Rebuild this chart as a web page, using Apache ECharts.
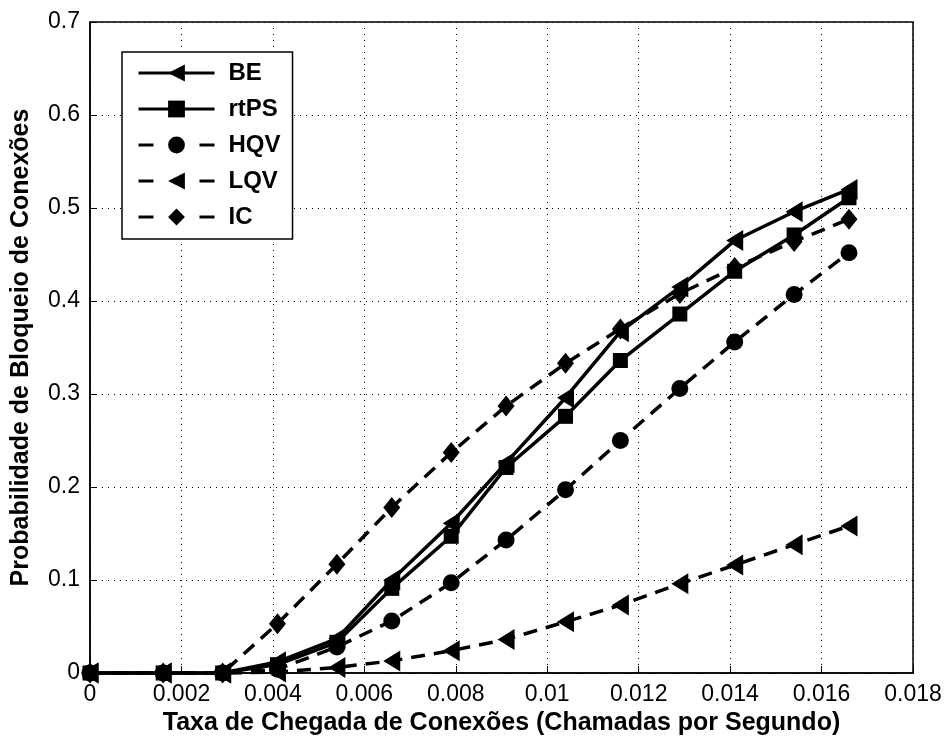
<!DOCTYPE html>
<html>
<head>
<meta charset="utf-8">
<script src="https://cdn.jsdelivr.net/npm/echarts@6/dist/echarts.min.js"></script>
<style>
html,body{margin:0;padding:0;background:#fff;}
#c{width:947px;height:737px;}
</style>
</head>
<body>
<div id="c"></div>
<script>
const xValues = [0, 0.0016, 0.0029, 0.0041, 0.0054, 0.0066, 0.0079, 0.0091, 0.0104, 0.0116, 0.0129, 0.0141, 0.0154, 0.0166];
const beValues   = [0, 0, 0, 0.012, 0.037, 0.100, 0.161, 0.226, 0.296, 0.367, 0.415, 0.465, 0.496, 0.520];
const rtpsValues = [0, 0, 0, 0.009, 0.033, 0.091, 0.147, 0.221, 0.276, 0.336, 0.386, 0.432, 0.471, 0.511];
const hqvValues  = [0, 0, 0, 0.004, 0.028, 0.056, 0.097, 0.143, 0.197, 0.250, 0.306, 0.356, 0.407, 0.452];
const lqvValues  = [0, 0, 0, 0.001, 0.006, 0.013, 0.024, 0.036, 0.055, 0.073, 0.096, 0.116, 0.138, 0.158];
const icValues   = [0, 0, 0, 0.053, 0.117, 0.178, 0.237, 0.287, 0.333, 0.370, 0.408, 0.436, 0.464, 0.488];
const seriesNames = ['BE', 'rtPS', 'HQV', 'LQV', 'IC'];
const xTicks = [0, 0.002, 0.004, 0.006, 0.008, 0.01, 0.012, 0.014, 0.016, 0.018];
const yTicks = [0, 0.1, 0.2, 0.3, 0.4, 0.5, 0.6, 0.7];

const pairs = v => xValues.map((x, i) => [x, v[i]]);
const dash = [14, 9];
const legendDash = [15, 46];
const styles = [
  {data: beValues,   symbol: 'triangle', rotate: 90, size: [21, 17], type: 'solid'},
  {data: rtpsValues, symbol: 'rect',     rotate: 0,  size: 15, type: 'solid'},
  {data: hqvValues,  symbol: 'circle',   rotate: 0,  size: 17, type: dash},
  {data: lqvValues,  symbol: 'triangle', rotate: 90, size: [21, 17], type: dash},
  {data: icValues,   symbol: 'diamond',  rotate: 0,  size: [17, 21], type: dash}
];

const chart = echarts.init(document.getElementById('c'), null, {renderer: 'canvas'});
const fmt = v => v === 0 ? '0' : String(parseFloat(v.toFixed(3)));
const FONT = 'Liberation Sans, Arial, sans-serif';
const axisCommon = {
  axisLine: {show: true, onZero: false, lineStyle: {color: '#000', width: 1.5}},
  axisTick: {show: true, inside: true, length: 7, lineStyle: {color: '#000', width: 1}},
  splitLine: {show: true, lineStyle: {color: '#000', type: [1, 5], width: 1}},
  axisLabel: {color: '#000', fontFamily: FONT, fontSize: 23},
  nameTextStyle: {color: '#000', fontFamily: FONT, fontSize: 25, fontWeight: 'bold'}
};
chart.setOption({
  animation: false,
  backgroundColor: '#fff',
  grid: {left: 90, right: 34, top: 22, bottom: 64, show: true, borderColor: '#000', borderWidth: 1.5,
         containLabel: false, outerBoundsMode: 'none'},
  legend: {
    show: true,
    left: 122, top: 52,
    orient: 'vertical',
    data: seriesNames.map((n, i) => ({
      name: n,
      lineStyle: {type: styles[i].type === 'solid' ? 'solid' : legendDash, width: 3}
    })),
    itemWidth: 76, itemHeight: 21, itemGap: 12,
    padding: [9, 12, 10, 15],
    borderColor: '#000', borderWidth: 1.5,
    backgroundColor: '#fff',
    lineStyle: {width: 3},
    textStyle: {color: '#000', fontFamily: FONT, fontSize: 24, fontWeight: 'bold', padding: [0, 0, 0, 9]}
  },
  xAxis: Object.assign({}, axisCommon, {
    type: 'value', min: 0, max: 0.018, interval: 0.002,
    name: 'Taxa de Chegada de Conexões (Chamadas por Segundo)',
    nameLocation: 'middle', nameGap: 35,
    axisLabel: Object.assign({}, axisCommon.axisLabel, {formatter: fmt, margin: 10})
  }),
  yAxis: Object.assign({}, axisCommon, {
    type: 'value', min: 0, max: 0.7, interval: 0.1,
    name: 'Probabilidade de Bloqueio de Conexões',
    nameLocation: 'middle', nameGap: 56,
    axisLabel: Object.assign({}, axisCommon.axisLabel, {formatter: fmt, margin: 10})
  }),
  series: styles.map((s, i) => ({
    name: seriesNames[i],
    type: 'line',
    data: pairs(s.data),
    symbol: s.symbol,
    symbolSize: s.size,
    symbolRotate: s.rotate,
    showAllSymbol: true,
    clip: false,
    lineStyle: {color: '#000', width: 3.5, type: s.type},
    itemStyle: {color: '#000', borderWidth: 0},
    emphasis: {disabled: true}
  }))
});
</script>
</body>
</html>
